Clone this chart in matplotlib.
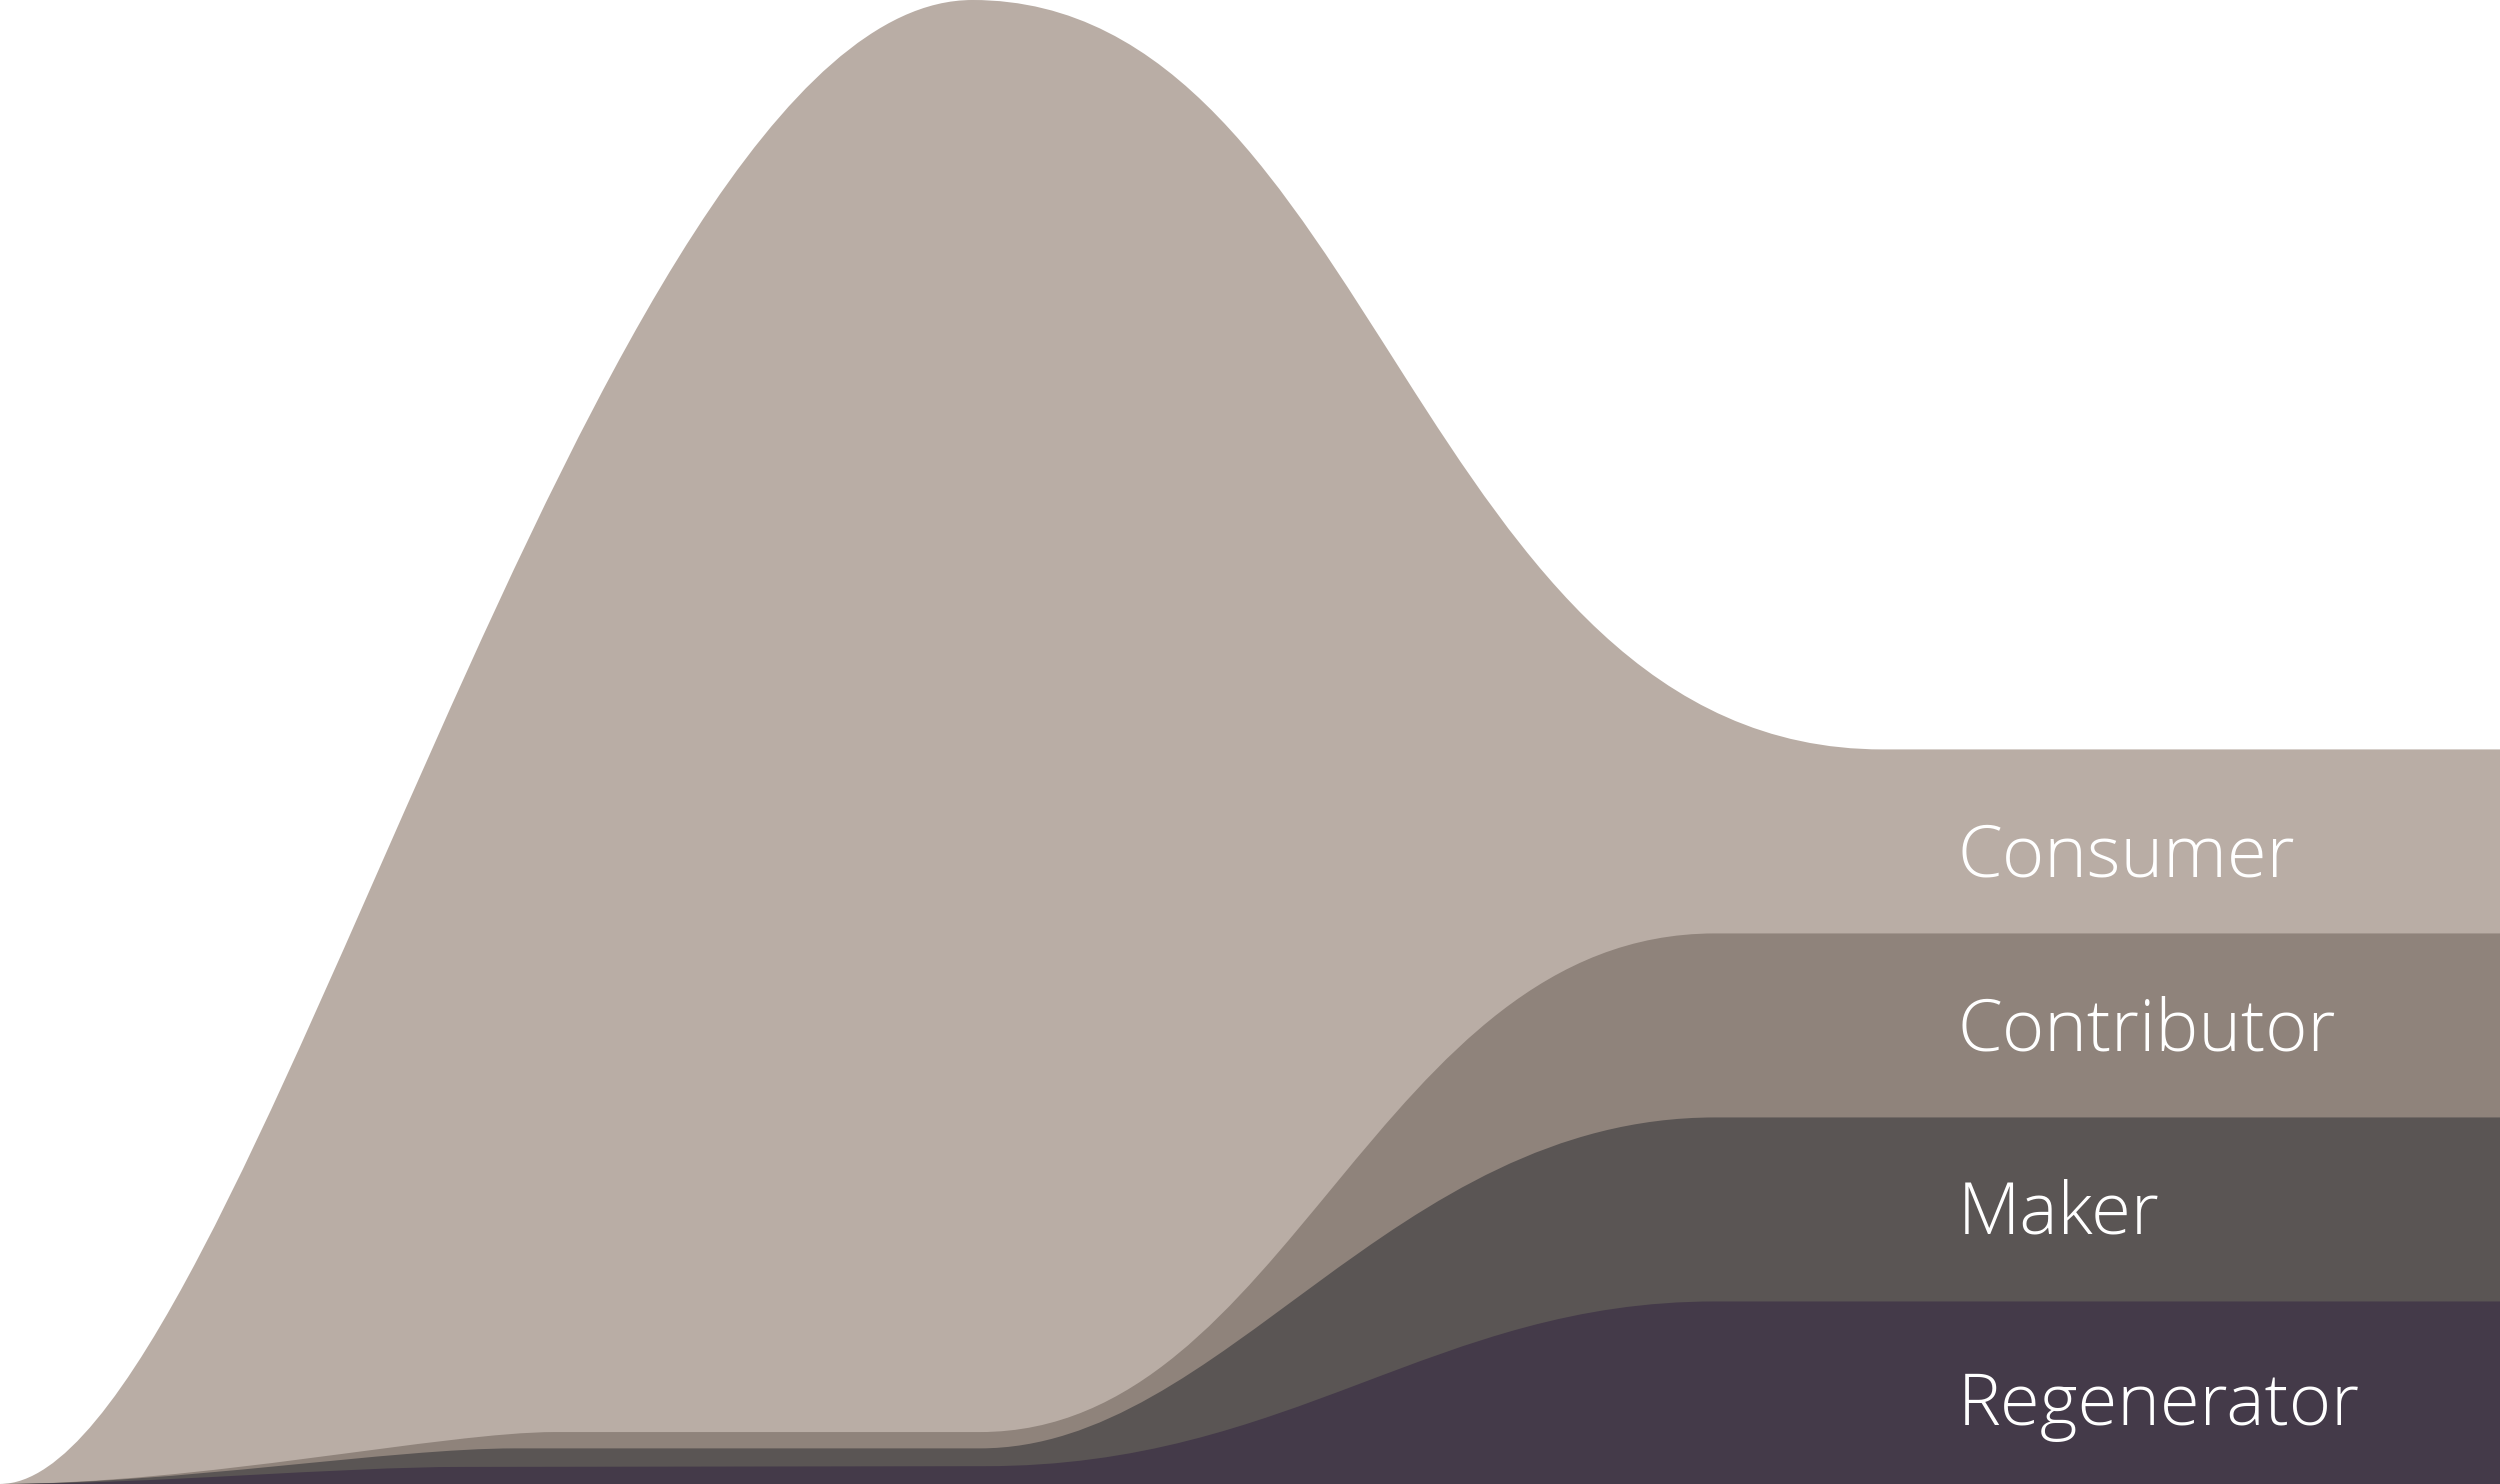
import matplotlib
matplotlib.use("Agg")
import matplotlib.pyplot as plt
from matplotlib.path import Path
from matplotlib.patches import PathPatch

# chart space: x = time (0-100), y = cumulative share (0-100)
# each boundary is a list of knots (x, y); between knots the curve leaves and
# enters flat, handle = fraction of segment width for (out, in)
series = ["Consumer", "Contributor", "Maker", "Regenerator"]
colors = ["#b9ada5", "#8f837b", "#5a5554", "#443a49"]

consumer_x = [0, 38.9, 75.3, 100]
consumer_y = [0, 100, 49.5, 49.5]
consumer_h = [(0.25, 0.39), (0.44, 0.51), (0.33, 0.33)]

contributor_x = [0, 22.2, 39.2, 68.6, 100]
contributor_y = [0, 3.5, 3.5, 37.1, 37.1]
contributor_h = [(0.36, 0.20), (0.33, 0.33), (0.42, 0.46), (0.33, 0.33)]

maker_x = [0, 20.6, 39.2, 68.6, 100]
maker_y = [0, 2.4, 2.4, 24.7, 24.7]
maker_h = [(0.34, 0.24), (0.33, 0.33), (0.33, 0.44), (0.33, 0.33)]

regen_x = [0, 18.5, 39.4, 68.6, 100]
regen_y = [0, 1.15, 1.2, 12.3, 12.3]
regen_h = [(0.33, 0.27), (0.33, 0.33), (0.42, 0.385), (0.33, 0.33)]

# label baselines
label_x = 78.3
label_y = [40.97, 29.18, 16.91, 3.98]

boundaries = [
    (consumer_x, consumer_y, consumer_h),
    (contributor_x, contributor_y, contributor_h),
    (maker_x, maker_y, maker_h),
    (regen_x, regen_y, regen_h),
]


def area_path(xs, ys, hs):
    verts = [(xs[0], 0), (xs[0], ys[0])]
    codes = [Path.MOVETO, Path.LINETO]
    for i in range(len(xs) - 1):
        w = xs[i + 1] - xs[i]
        ho, hi = hs[i]
        verts += [(xs[i] + ho * w, ys[i]), (xs[i + 1] - hi * w, ys[i + 1]), (xs[i + 1], ys[i + 1])]
        codes += [Path.CURVE4] * 3
    verts += [(xs[-1], 0), (xs[0], 0)]
    codes += [Path.LINETO, Path.CLOSEPOLY]
    return Path(verts, codes)


fig = plt.figure(figsize=(25, 14.84), dpi=100)
ax = fig.add_axes([0, 0, 1, 1])
ax.set_xlim(0, 100)
ax.set_ylim(0, 100)
ax.axis("off")

for (xs, ys, hs), c in zip(boundaries, colors):
    ax.add_patch(PathPatch(area_path(xs, ys, hs), facecolor=c, edgecolor="none", lw=0))

for name, y in zip(series, label_y):
    ax.text(label_x, y, name, color="white", fontsize=52, va="baseline", ha="left",
            family=["Open Sans", "DejaVu Sans"], fontweight="light")

fig.savefig("out.png", dpi=100, facecolor="white")
